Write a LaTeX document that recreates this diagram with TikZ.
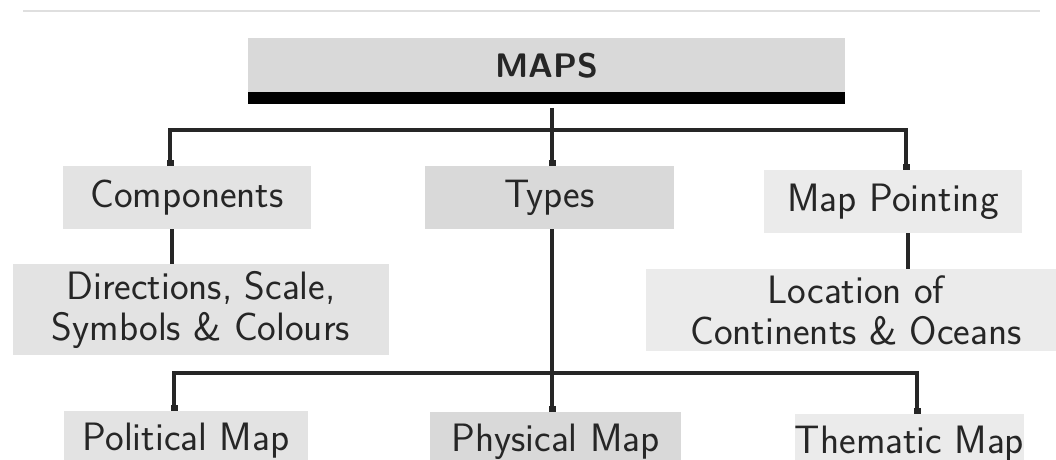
\documentclass[tikz,border=0pt]{standalone}
\usepackage{tikz}
\usetikzlibrary{arrows.meta}
\definecolor{greyA}{HTML}{D9D9D9}
\definecolor{greyB}{HTML}{E3E3E3}
\definecolor{greyC}{HTML}{EBEBEB}
\begin{document}
\begin{tikzpicture}[
  x=0.5pt,
  y=-0.5pt,
  box/.style={
    rectangle,
    inner sep=0pt,
    align=center,
    text=black!85,
    font=\sffamily\fontsize{19.8}{20.5}\selectfont
  },
  link/.style={
    line width=2pt,
    draw=black!85
  },
  dotted end/.style={
    -{Square[length=3pt,width=3.5pt]}
  }
]
\useasboundingbox (0,0) rectangle (1056,460);
\draw[gray!25, line width=1pt] (23,11) -- (1040,11);
\node[box, fill=greyA, minimum width=298.5pt, minimum height=28pt, font=\sffamily\bfseries\fontsize{17}{20}\selectfont] (maps) at (546.5,66) {MAPS};
\fill[black] ([yshift=1pt]maps.south west) rectangle ([yshift=-5pt]maps.south east);
\node[box, fill=greyB, minimum width=124pt, minimum height=31.5pt] (comp) at (187,197.5) {Components};
\node[box, fill=greyB, minimum width=188pt, minimum height=45.5pt] (dirs) at (201,309.5) {Directions, Scale,\\Symbols \& Colours};
\node[box, fill=greyA, minimum width=124.5pt, minimum height=31.5pt] (types) at (549.5,197.5) {Types};
\node[box, fill=greyC, minimum width=129pt, minimum height=31.5pt] (mapp) at (893,201.5) {Map Pointing};
\node[box, fill=greyC, minimum width=210pt, minimum height=41pt] (loc) at (856,310) {Location of\\Continents \& Oceans};
\node[box, fill=greyB, minimum width=122pt, minimum height=29.5pt] (pol) at (186,440.5) {Political Map};
\node[box, fill=greyA, minimum width=125.5pt, minimum height=30pt] (phys) at (555.5,442) {Physical Map};
\node[box, fill=greyC, minimum width=114.5pt, minimum height=30pt] (them) at (909.5,444) {Thematic Map};
\coordinate (bar) at (552,108);
\coordinate (bus) at (552,130);
\coordinate (lowbus) at (552,373);
\draw[link, dotted end] (bar) -- ([xshift=1.25pt]types.north);
\draw[link, dotted end] (bus) -| ([xshift=-8.5pt]comp.north);
\draw[link, dotted end] (bus) -| ([xshift=6.5pt]mapp.north);
\draw[link] ([xshift=-7.5pt]comp.south) -- ([xshift=-7.5pt]comp.south |- dirs.north);
\draw[link] ([xshift=7.5pt]mapp.south) -- ([xshift=7.5pt]mapp.south |- loc.north);
\draw[link] ([xshift=1.25pt]types.south) -- (lowbus);
\draw[link, dotted end] (lowbus) -| ([xshift=-6pt]pol.north);
\draw[link, dotted end] (lowbus) -| ([xshift=3.75pt]them.north);
\draw[link, dotted end] (lowbus) -- ([xshift=-1.75pt]phys.north);
\end{tikzpicture}
\end{document}
